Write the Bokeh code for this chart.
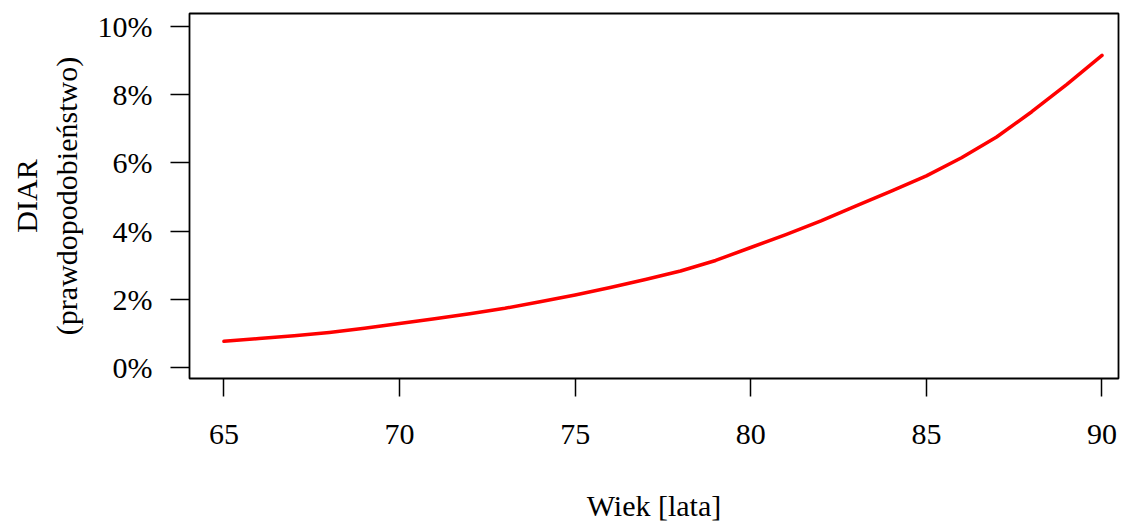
from bokeh.plotting import figure
from bokeh.models import Range1d, FixedTicker, PrintfTickFormatter, ColumnDataSource
from bokeh.embed import file_html
from bokeh.resources import INLINE

# Data
age = [65, 66, 67, 68, 69, 70, 71, 72, 73, 74, 75, 76, 77, 78, 79, 80,
       81, 82, 83, 84, 85, 86, 87, 88, 89, 90]
diar_pct = [0.77, 0.85, 0.93, 1.03, 1.15, 1.29, 1.43, 1.58, 1.74, 1.93, 2.13,
            2.35, 2.58, 2.83, 3.14, 3.52, 3.90, 4.30, 4.74, 5.17, 5.62, 6.15,
            6.76, 7.50, 8.30, 9.15]
x_ticks = [65, 70, 75, 80, 85, 90]
y_ticks = [0, 2, 4, 6, 8, 10]

FONT = "Liberation Serif"

p = figure(width=1120, height=524, output_backend="svg", toolbar_location=None,
           x_range=Range1d(64.02, 90.47), y_range=Range1d(-0.32, 10.38),
           min_border_left=189, min_border_right=2, min_border_top=13,
           min_border_bottom=145)

src = ColumnDataSource(dict(x=age, y=diar_pct))
p.line("x", "y", source=src, line_color="#FF0000", line_width=3.5,
       line_join="round", line_cap="round")

p.grid.visible = False
p.background_fill_color = "white"
p.border_fill_color = "white"
p.outline_line_color = "black"
p.outline_line_width = 1.8
p.outline_line_alpha = 1.0

for ax in (p.xaxis[0], p.yaxis[0]):
    ax.axis_line_color = None
    ax.major_tick_line_color = "black"
    ax.major_tick_line_width = 1.5
    ax.major_tick_in = 0
    ax.minor_tick_line_color = None
    ax.major_label_text_font = FONT
    ax.major_label_text_font_size = "30px"
    ax.major_label_text_color = "black"
    ax.axis_label_text_font = FONT
    ax.axis_label_text_font_size = "30px"
    ax.axis_label_text_font_style = "normal"
    ax.axis_label_text_color = "black"

p.xaxis[0].ticker = FixedTicker(ticks=x_ticks)
p.xaxis[0].major_tick_out = 18
p.xaxis[0].major_label_standoff = 28
p.xaxis[0].axis_label = "Wiek [lata]"
p.xaxis[0].axis_label_standoff = 42

p.yaxis[0].ticker = FixedTicker(ticks=y_ticks)
p.yaxis[0].formatter = PrintfTickFormatter(format="%d%%")
p.yaxis[0].major_tick_out = 19
p.yaxis[0].major_label_standoff = 18
p.yaxis[0].axis_label = "DIAR\n(prawdopodobieństwo)"
p.yaxis[0].axis_label_standoff = 12

open("out.html", "w").write(file_html(p, INLINE))
